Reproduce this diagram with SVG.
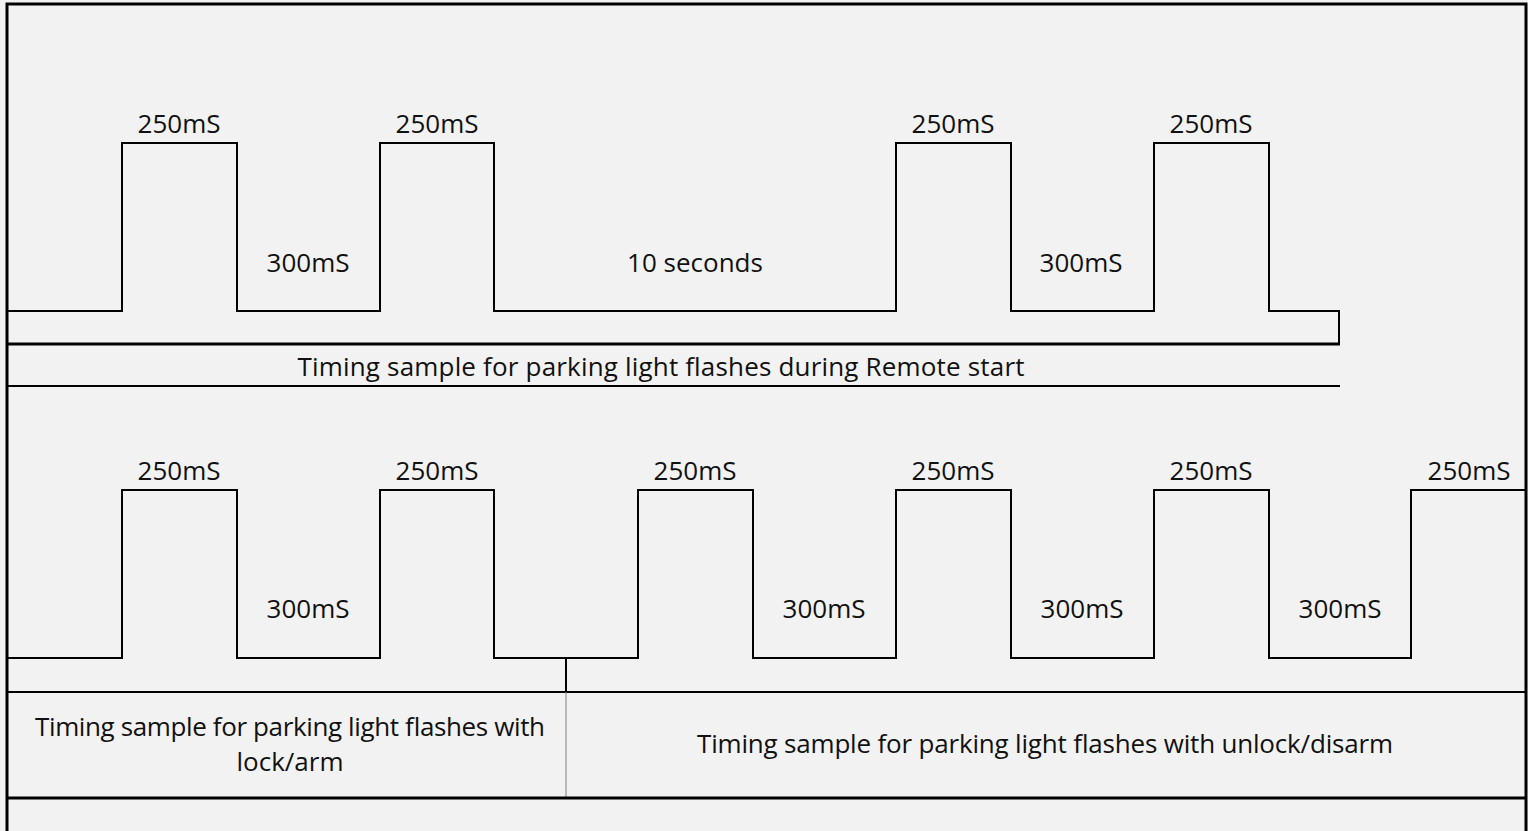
<svg xmlns="http://www.w3.org/2000/svg" width="1528" height="831" viewBox="0 0 1528 831">
<style>
.w{fill:none;stroke:#000;stroke-width:2}
.b{fill:none;stroke:#000;stroke-width:3}
.g{fill:none;stroke:#808080;stroke-width:1}
text{font-family:"Open Sans","Liberation Sans",sans-serif;font-size:26px;fill:#111;text-anchor:middle}
</style>
<rect x="0" y="0" width="1528" height="831" fill="#f2f2f2"/>
<g id="frame">
<path class="b" d="M7,831 V4 H1526 V831"/>
</g>
<g id="connectors">
<path id="wave-top" class="w" d="M8,311 H122 V143 H237 V311 H380 V143 H494 V311 H896 V143 H1011 V311 H1154 V143 H1269 V311 H1339 V344"/>
<path class="b" d="M8,344 H1340"/>
<path class="w" d="M8,386 H1340"/>
<path id="wave-bottom" class="w" d="M8,658 H122 V490 H237 V658 H380 V490 H494 V658 H638 V490 H753 V658 H896 V490 H1011 V658 H1154 V490 H1269 V658 H1411 V490 H1525"/>
<path class="w" d="M566,658 V692"/>
<path class="w" d="M8,692 H1525"/>
<path class="g" d="M566,692 V798"/>
<path class="b" d="M8,798 H1525"/>
</g>
<g id="labels-top">
<text x="179" y="133">250mS</text>
<text x="437" y="133">250mS</text>
<text x="953" y="133">250mS</text>
<text x="1211" y="133">250mS</text>
<text x="308" y="272">300mS</text>
<text x="695" y="272">10 seconds</text>
<text x="1081" y="272">300mS</text>
</g>
<g id="caption-top">
<text x="661" y="376" textLength="727">Timing sample for parking light flashes during Remote start</text>
</g>
<g id="labels-bottom">
<text x="179" y="480">250mS</text>
<text x="437" y="480">250mS</text>
<text x="695" y="480">250mS</text>
<text x="953" y="480">250mS</text>
<text x="1211" y="480">250mS</text>
<text x="1469" y="480">250mS</text>
<text x="308" y="618">300mS</text>
<text x="824" y="618">300mS</text>
<text x="1082" y="618">300mS</text>
<text x="1340" y="618">300mS</text>
</g>
<g id="caption-lock">
<text x="290" y="736" textLength="510">Timing sample for parking light flashes with</text>
<text x="290" y="771">lock/arm</text>
</g>
<g id="caption-unlock">
<text x="1045" y="753" textLength="696">Timing sample for parking light flashes with unlock/disarm</text>
</g>
</svg>
